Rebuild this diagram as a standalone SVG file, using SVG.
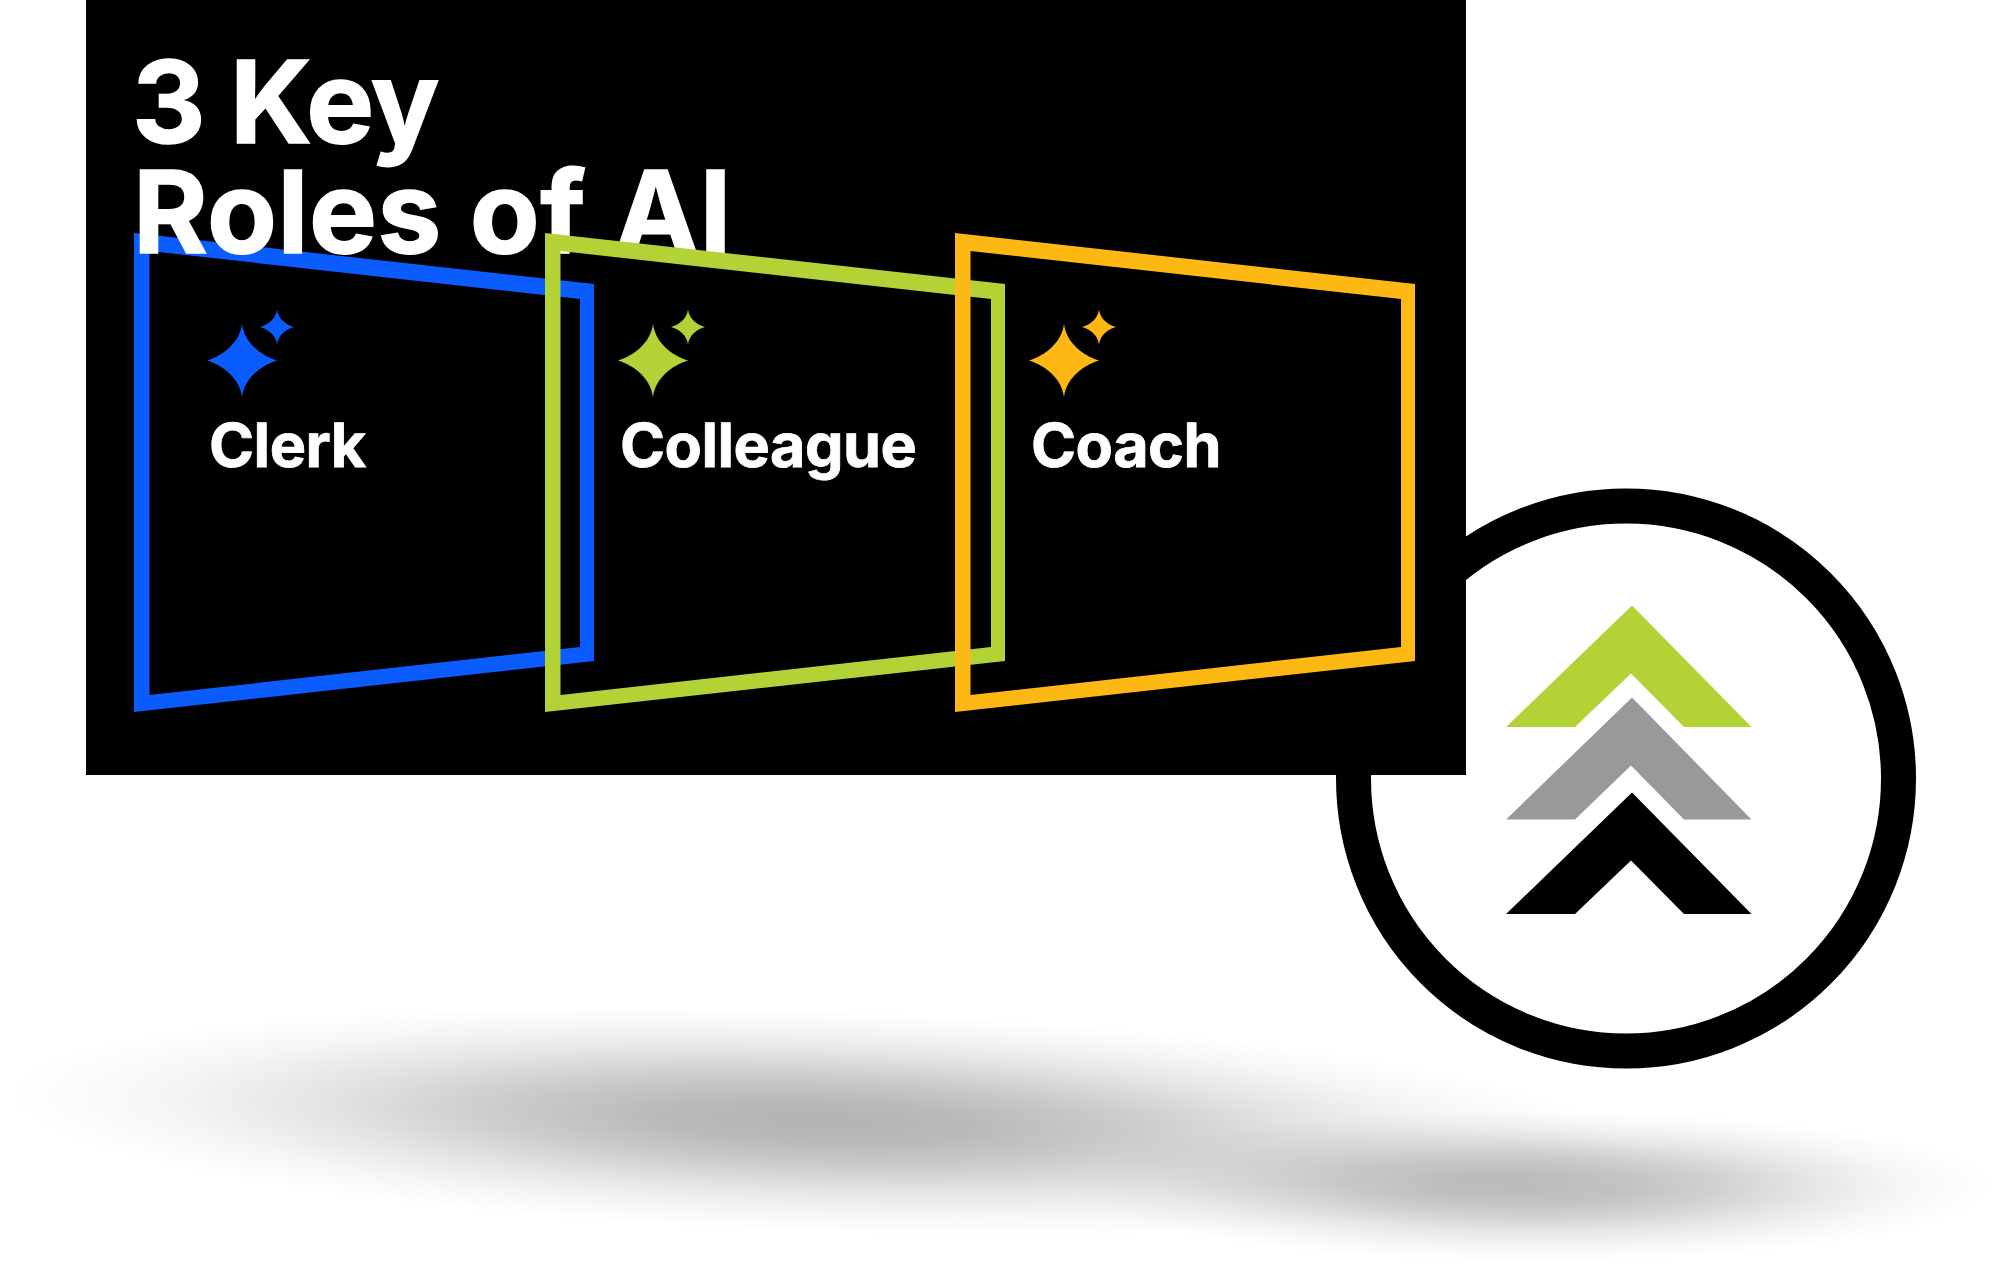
<svg xmlns="http://www.w3.org/2000/svg" width="2000" height="1265" viewBox="0 0 2000 1265">
<style>
.t{font-family:"Inter","Liberation Sans",Arial,sans-serif;font-weight:700;fill:#fff;stroke:#fff;text-rendering:geometricPrecision}
.h{font-size:114px;stroke-width:1.500px}.l{font-size:61px;letter-spacing:-.5px;stroke-width:.8px}
.frame{fill-rule:evenodd}
.blue{fill:#0a5cff}.green{fill:#b2d235}.orange{fill:#fdb813}
</style>
<defs>
<radialGradient id="g1"><stop offset="0" stop-opacity=".3"/><stop offset=".2" stop-opacity=".27"/><stop offset=".4" stop-opacity=".2"/><stop offset=".6" stop-opacity=".11"/><stop offset=".8" stop-opacity=".04"/><stop offset="1" stop-opacity="0"/></radialGradient>
<radialGradient id="g2"><stop offset="0" stop-opacity=".26"/><stop offset=".2" stop-opacity=".24"/><stop offset=".4" stop-opacity=".18"/><stop offset=".6" stop-opacity=".1"/><stop offset=".8" stop-opacity=".035"/><stop offset="1" stop-opacity="0"/></radialGradient>
<path id="f" class="frame" d="M0,233L460,284V661L0,712ZM15.500,251V695L446,647V299Z"/>
<g id="s">
<path d="M108,324C110.500,343 127,355.500 143,360.500C127,365.500 110.500,378 108,397C105.500,378 89,365.500 73,360.500C89,355.500 105.500,343 108,324Z"/>
<path d="M143,309.500C144.300,319 152,325 160,327C152,329 144.300,335 143,344.500C141.700,335 134,329 126,327C134,325 141.700,319 143,309.500Z"/>
</g>
</defs>
<g id="shadows">
<ellipse cx="816" cy="1121" rx="810" ry="112" fill="url(#g1)" transform="rotate(2 816 1121)"/>
<ellipse cx="1535" cy="1186" rx="460" ry="76" fill="url(#g2)"/>
</g>
<g id="badge">
<circle cx="1626" cy="778.500" r="272.500" fill="#fff" stroke="#000" stroke-width="35"/>
<path id="chev-green" class="green" d="M1632,605.500L1751.500,727H1684L1631,673.500L1575,727H1506Z"/>
<path id="chev-grey" fill="#999" d="M1632,697.500L1751.500,819.500H1684L1631,765.500L1575,819.500H1506Z"/>
<path id="chev-black" fill="#000" d="M1632,792.500L1751.500,914H1684L1631,860.500L1575,914H1506Z"/>
</g>
<rect id="panel" x="86" y="0" width="1380" height="775" fill="#000"/>
<g id="clerk-frame" class="blue"><use href="#f" x="134"/></g>
<g id="title"><text class="t h" x="132" y="143" letter-spacing="-1.300">3 Key</text><text class="t h" x="133" y="253" letter-spacing=".6">Roles of AI</text></g>
<g id="colleague-frame" class="green"><use href="#f" x="545"/></g>
<g id="coach-frame" class="orange"><use href="#f" x="955"/></g>
<g id="clerk"><use href="#s" x="134" class="blue"/><text class="t l" x="209" y="467">Clerk</text></g>
<g id="colleague"><use href="#s" x="545" class="green"/><text class="t l" x="620" y="467">Colleague</text></g>
<g id="coach"><use href="#s" x="956" class="orange"/><text class="t l" x="1031" y="467">Coach</text></g>
</svg>
